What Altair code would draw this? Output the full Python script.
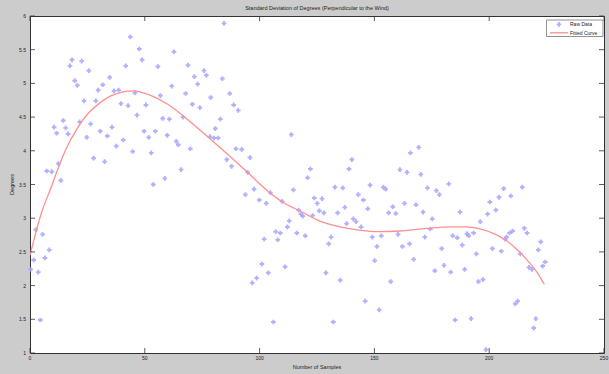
import altair as alt
import pandas as pd

# ---------------- data ----------------
raw_x = [
    0.3, 1.6, 2.5, 3.6, 4.5, 5.5, 6.5, 7.3, 8.4, 9.5,
    10.5, 11.6, 12.3, 13.4, 14.5, 15.5, 16.6, 17.4, 18.3, 19.5,
    20.6, 21.6, 22.5, 23.5, 24.7, 25.6, 26.4, 27.7, 28.7, 29.7,
    30.6, 31.7, 32.5, 33.7, 34.7, 35.7, 36.6, 37.6, 38.6, 39.6,
    40.6, 41.7, 42.7, 43.7, 44.7, 45.7, 46.6, 47.6, 48.8, 49.7,
    50.5, 51.7, 52.8, 53.7, 54.6, 55.7, 56.8, 57.8, 58.7, 59.8,
    60.7, 61.7, 62.7, 63.7, 64.6, 65.8, 66.6, 67.8, 68.8, 69.8,
    70.7, 71.6, 73.0, 74.0, 75.8, 76.8, 78.4, 78.7, 80.1, 80.7,
    81.9, 82.9, 83.8, 84.5, 85.7, 87.0, 87.8, 88.7, 89.7, 90.7,
    92.2, 93.8, 94.8, 95.8, 96.8, 97.6, 98.7, 99.9, 101.0, 102.0,
    102.9, 103.8, 104.7, 106.0, 107.0, 107.9, 109.0, 109.8, 111.1, 112.1,
    112.9, 113.8, 114.7, 116.2, 117.0, 118.0, 118.8, 119.9, 120.9, 122.1,
    123.1, 123.8, 125.1, 126.0, 127.2, 128.0, 128.9, 130.1, 131.1, 132.1,
    132.8, 134.0, 135.1, 136.2, 137.1, 137.9, 138.9, 140.2, 140.8, 142.0,
    143.0, 144.2, 145.2, 146.0, 147.1, 148.1, 149.1, 150.1, 151.1, 152.1,
    153.0, 153.9, 154.9, 156.2, 157.1, 158.0, 159.3, 160.3, 161.1, 162.2,
    163.1, 164.2, 165.3, 165.7, 167.1, 168.1, 169.3, 170.2, 171.2, 172.0,
    173.1, 174.3, 175.2, 176.3, 177.0, 178.3, 179.3, 180.3, 182.4, 183.2,
    184.1, 185.2, 186.1, 187.3, 188.3, 189.3, 190.3, 191.1, 192.1, 193.2,
    194.4, 195.3, 196.1, 197.3, 198.6, 199.3, 200.3, 201.4, 202.9, 204.3,
    205.3, 206.3, 206.9, 207.6, 208.9, 209.4, 210.2, 211.4, 212.4, 213.5,
    214.4, 215.3, 216.5, 217.3, 218.6, 219.4, 220.3, 221.4, 222.4, 223.3,
    224.4,
]
raw_y = [
    2.24, 2.38, 2.83, 2.20, 1.49, 2.76, 2.41, 3.70, 2.53, 3.69,
    4.35, 4.26, 3.81, 3.56, 4.45, 4.34, 4.25, 5.26, 5.35, 5.04,
    4.97, 4.43, 5.33, 4.74, 4.20, 5.19, 4.40, 3.89, 4.74, 4.90,
    4.29, 4.98, 3.84, 4.22, 5.09, 4.35, 4.89, 4.07, 4.90, 4.70,
    4.16, 5.26, 4.67, 5.69, 3.99, 4.86, 4.53, 5.51, 5.35, 4.29,
    4.68, 4.20, 3.97, 3.50, 4.29, 5.25, 4.82, 4.48, 3.59, 4.23,
    4.47, 4.96, 5.47, 4.14, 4.09, 3.72, 4.50, 4.85, 5.27, 4.03,
    4.69, 5.10, 4.99, 4.64, 5.19, 5.12, 4.21, 4.79, 4.19, 4.33,
    4.19, 4.47, 5.07, 5.89, 3.87, 4.85, 3.77, 4.68, 4.03, 4.60,
    4.02, 3.35, 3.68, 3.90, 2.04, 3.43, 2.11, 3.27, 2.32, 2.69,
    3.22, 2.19, 3.38, 1.46, 2.80, 2.68, 2.78, 3.25, 2.28, 2.87,
    2.96, 4.24, 3.42, 2.78, 3.12, 3.06, 3.03, 2.74, 3.60, 3.73,
    3.04, 3.30, 3.22, 3.11, 3.29, 3.08, 2.19, 2.62, 2.72, 1.46,
    3.46, 3.08, 2.08, 3.45, 3.16, 2.92, 3.73, 3.87, 2.99, 2.95,
    3.35, 2.87, 3.27, 1.77, 3.14, 3.49, 2.72, 2.37, 2.58, 1.64,
    2.74, 3.46, 3.43, 3.08, 2.06, 3.17, 3.07, 2.76, 3.72, 2.58,
    3.22, 3.68, 2.62, 3.97, 2.39, 3.20, 4.05, 3.65, 3.09, 2.72,
    3.45, 2.84, 2.99, 2.22, 3.41, 3.35, 2.55, 2.30, 3.51, 2.20,
    2.74, 1.49, 2.71, 3.09, 2.60, 2.24, 2.77, 2.74, 1.51, 2.78,
    2.47, 2.06, 2.95, 2.09, 1.05, 3.06, 3.24, 2.55, 3.12, 3.31,
    2.51, 3.44, 2.69, 2.72, 2.78, 3.33, 2.81, 1.73, 1.77, 2.47,
    3.46, 2.85, 2.78, 2.27, 2.24, 1.37, 1.51, 2.53, 2.65, 2.29,
    2.35,
]
fit_x = [0, 2, 5, 9, 12, 16, 20, 26, 30, 35, 40, 45, 52, 60, 67, 74, 81,
         88, 96, 103, 110, 118, 126, 135, 144, 152, 161, 173, 184, 190,
         196, 202, 207, 212, 217, 221, 224]
fit_y = [2.45, 2.72, 3.08, 3.44, 3.72, 4.05, 4.30, 4.58, 4.70, 4.81, 4.87,
         4.89, 4.83, 4.69, 4.51, 4.31, 4.10, 3.89, 3.64, 3.42, 3.24, 3.10,
         2.96, 2.87, 2.82, 2.80, 2.81, 2.85, 2.87, 2.87, 2.84, 2.77, 2.68,
         2.54, 2.36, 2.19, 2.02]
x_ticks = [0, 50, 100, 150, 200, 250]
y_ticks = [1, 1.5, 2, 2.5, 3, 3.5, 4, 4.5, 5, 5.5, 6]
legend_labels = ["Raw Data", "Fitted Curve"]
title_text = "Standard Deviation of Degrees (Perpendicular to the Wind)"
x_title = "Number of Samples"
y_title = "Degrees"

assert len(raw_x) == len(raw_y)
assert len(fit_x) == len(fit_y)

raw = pd.DataFrame({"x": raw_x, "y": raw_y})
fit = pd.DataFrame({"x": fit_x, "y": fit_y})
xt = pd.DataFrame({"t": x_ticks})
yt = pd.DataFrame({"t": y_ticks})
one = pd.DataFrame({"k": [0]})

W, H = 574, 337
FONT = "Liberation Sans"
PT_COLOR = "#a2a2ff"
LINE_COLOR = "#ff8f8f"
AX = "#333333"
TXT = "#222222"

xscale = alt.Scale(domain=[0, 250], nice=False, zero=False)
yscale = alt.Scale(domain=[1, 6], nice=False, zero=False)

points = alt.Chart(raw).mark_point(
    shape="cross", filled=True, size=22, color=PT_COLOR, opacity=0.85
).encode(
    x=alt.X("x:Q", scale=xscale, axis=None),
    y=alt.Y("y:Q", scale=yscale, axis=None),
)

curve = alt.Chart(fit).mark_line(
    color=LINE_COLOR, strokeWidth=1.3, interpolate="monotone"
).encode(
    x=alt.X("x:Q", scale=xscale, axis=None),
    y=alt.Y("y:Q", scale=yscale, axis=None),
)

# inward tick marks on all four sides (MATLAB box style)
tick_len = 5
xt_bottom = alt.Chart(xt).mark_rule(color=AX, strokeWidth=0.8).encode(
    x=alt.X("t:Q", scale=xscale, axis=None),
    y=alt.value(H), y2=alt.value(H - tick_len))
xt_top = alt.Chart(xt).mark_rule(color=AX, strokeWidth=0.8).encode(
    x=alt.X("t:Q", scale=xscale, axis=None),
    y=alt.value(0), y2=alt.value(tick_len))
yt_left = alt.Chart(yt).mark_rule(color=AX, strokeWidth=0.8).encode(
    y=alt.Y("t:Q", scale=yscale, axis=None),
    x=alt.value(0), x2=alt.value(tick_len))
yt_right = alt.Chart(yt).mark_rule(color=AX, strokeWidth=0.8).encode(
    y=alt.Y("t:Q", scale=yscale, axis=None),
    x=alt.value(W), x2=alt.value(W - tick_len))

# tick labels, placed through the scales
xlab = alt.Chart(xt).mark_text(baseline="middle", align="center", fontSize=5,
                               font=FONT, color=TXT).encode(
    x=alt.X("t:Q", scale=xscale, axis=None),
    y=alt.value(H + 5),
    text=alt.Text("t:Q", format="~g"))
ylab = alt.Chart(yt).mark_text(baseline="middle", align="right", fontSize=5,
                               font=FONT, color=TXT).encode(
    y=alt.Y("t:Q", scale=yscale, axis=None),
    x=alt.value(-4),
    text=alt.Text("t:Q", format="~g"))

# axis titles
xtitle = alt.Chart(one).mark_text(baseline="middle", align="center",
                                  fontSize=5.5, font=FONT, color=TXT).encode(
    x=alt.value(W / 2), y=alt.value(H + 14), text=alt.value(x_title))
ytitle = alt.Chart(one).mark_text(baseline="middle", align="center",
                                  fontSize=5.5, font=FONT, color=TXT,
                                  angle=270).encode(
    x=alt.value(-18), y=alt.value(H / 2), text=alt.value(y_title))

# legend (top right, inside the axes)
lg_box = alt.Chart(one).mark_rect(fill="white", stroke="#777",
                                  strokeWidth=0.8).encode(
    x=alt.value(516.5), x2=alt.value(573), y=alt.value(4), y2=alt.value(20.5))
lg_pt = alt.Chart(one).mark_point(shape="cross", filled=True, size=22,
                                  color=PT_COLOR, opacity=0.85).encode(
    x=alt.value(529), y=alt.value(8.4))
lg_line = alt.Chart(one).mark_rule(color=LINE_COLOR, strokeWidth=1.3).encode(
    x=alt.value(520), x2=alt.value(538), y=alt.value(16.8))
lg_t1 = alt.Chart(one).mark_text(align="left", baseline="middle", fontSize=5,
                                 font=FONT, color=TXT).encode(
    x=alt.value(540), y=alt.value(8.4), text=alt.value(legend_labels[0]))
lg_t2 = alt.Chart(one).mark_text(align="left", baseline="middle", fontSize=5,
                                 font=FONT, color=TXT).encode(
    x=alt.value(540), y=alt.value(16.8), text=alt.value(legend_labels[1]))

chart = alt.layer(
    points, curve, xt_bottom, xt_top, yt_left, yt_right,
    xlab, ylab, xtitle, ytitle,
    lg_box, lg_pt, lg_line, lg_t1, lg_t2
).properties(
    width=W, height=H,
    title=alt.Title(title_text, fontSize=5.5, fontWeight="normal", offset=3,
                    anchor="middle", font=FONT, color=TXT),
    padding={"left": 30, "top": 16, "right": 5, "bottom": 21},
    autosize=alt.AutoSizeParams(type="none"),
).configure(
    background="#cccccc",
).configure_view(
    fill="white", stroke=AX, strokeWidth=1,
)

chart.save("out.html", embed_options={"renderer": "svg", "actions": False})
